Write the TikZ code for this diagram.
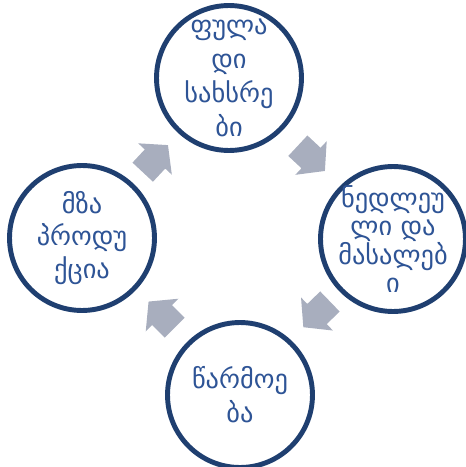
\documentclass[tikz,border=0pt]{standalone}
\usepackage{fontspec}
\newfontfamily\geofont{DejaVu Sans}
\usepackage{xcolor}
\usetikzlibrary{positioning}
\definecolor{ringblue}{RGB}{31,63,112}
\definecolor{textblue}{RGB}{46,84,150}
\definecolor{arrowgray}{RGB}{168,174,190}

\begin{document}
\begin{tikzpicture}[x=0.02cm, y=-0.02cm,
    stage/.style={circle, draw=ringblue, line width=2.8pt, fill=white, minimum size=2.9cm, inner sep=0pt},
    stagetext/.style={text=textblue, align=center, font=\geofont\fontsize{15}{#1}\selectfont},
    cycarrow/.pic={\fill[arrowgray] (-18,-14) -- (0,-14) -- (0,-23) -- (19,0) -- (0,23) -- (0,14) -- (-18,14) -- cycle;},
]
    \useasboundingbox (0,0) rectangle (466,467);

    % four stages of the cycle
    \node[stage] (funds) at (229,78) {};
    \node[stage] (materials) at (393,239) {};
    \node[stage] (production) at (240,395) {};
    \node[stage] (product) at (82,238) {};

    \node[stagetext=19.3] (funds_txt) at (funds.center) {ფულა\\დი\\სახსრე\\ბი};
    \node[stagetext=15.5] (materials_txt) at (materials.center) {ნედლეუ\\ლი და\\მასალებ\\ი};
    \node[stagetext=19.3] (production_txt) at (production.center) {წარმოე\\ბა};
    \node[stagetext=18.5] (product_txt) at (product.center) {მზა\\პროდუ\\ქცია};

    % gray block arrows, clockwise
    \pic[rotate=47] at (155,159) {cycarrow};
    \pic[rotate=-43] at (311,158) {cycarrow};
    \pic[rotate=224] at (317,314) {cycarrow};
    \pic[rotate=135] at (162,315) {cycarrow};
\end{tikzpicture}
\end{document}
